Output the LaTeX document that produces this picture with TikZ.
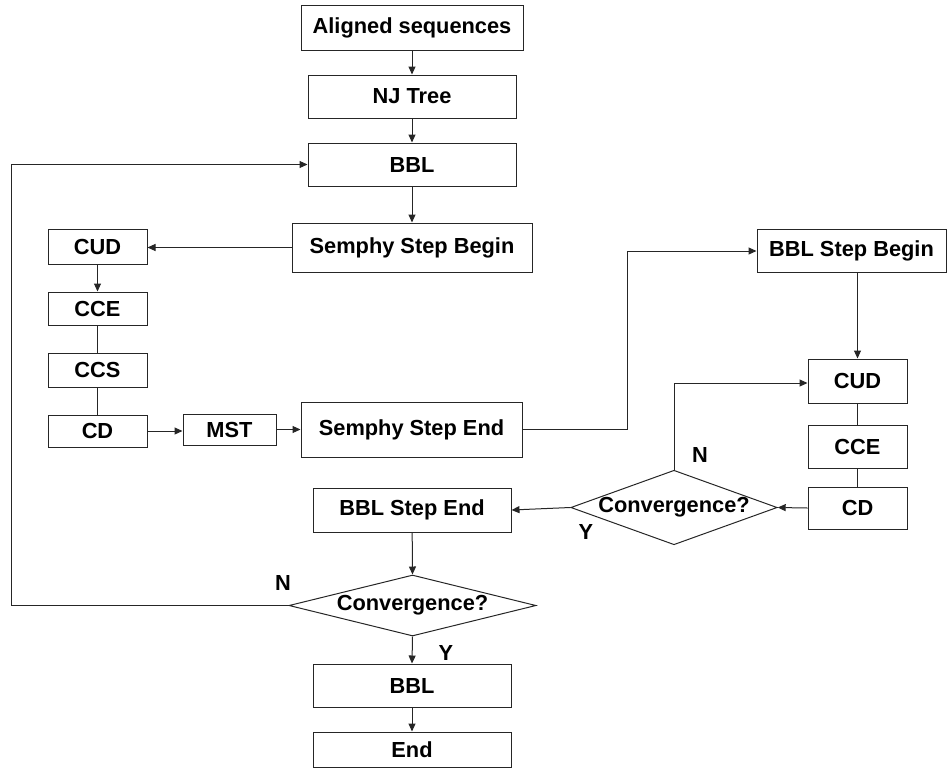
\documentclass[tikz,border=0pt]{standalone}
\usepackage{fontspec}
\setmainfont{Liberation Sans}
\usetikzlibrary{shapes.geometric,arrows.meta}
\begin{document}
\begin{tikzpicture}[x=1pt,y=-1pt,
  every node/.style={font=\bfseries\fontsize{21.8}{24}\selectfont},
  box/.style={draw=black!85, line width=1pt, rectangle, inner sep=0pt},
  dec/.style={draw=black!85, line width=1pt, diamond, inner sep=0pt},
  conn/.style={draw=black!85, line width=1pt},
  arr/.style={conn, -{Triangle[length=8pt,width=7pt]}},
  lbl/.style={inner sep=0pt}]
\useasboundingbox (0,0) rectangle (947,769);
% left / centre column
\node[box, minimum width=222pt, minimum height=45pt] (aligned) at (412,27.5) {Aligned sequences};
\node[box, minimum width=208pt, minimum height=43pt] (nj) at (412,96.5) {NJ Tree};
\node[box, minimum width=208pt, minimum height=43pt] (bbla) at (412,164.5) {BBL};
\node[box, minimum width=240pt, minimum height=49pt] (ssb) at (412,247.5) {Semphy Step Begin};
\node[box, minimum width=99pt, minimum height=35pt] (cuda) at (97.5,246.5) {CUD};
\node[box, minimum width=99pt, minimum height=33pt] (ccea) at (97.5,308.5) {CCE};
\node[box, minimum width=99pt, minimum height=34pt] (ccs) at (97.5,370) {CCS};
\node[box, minimum width=99pt, minimum height=32pt] (cda) at (97.5,431) {CD};
\node[box, minimum width=93pt, minimum height=31pt] (mst) at (229.5,429.5) {MST};
\node[box, minimum width=221pt, minimum height=55pt] (sse) at (411.5,429.5) {Semphy Step End};
% right column
\node[box, minimum width=189pt, minimum height=43pt] (bsb) at (851.5,250.5) {BBL Step Begin};
\node[box, minimum width=99pt, minimum height=44pt] (cudb) at (857.5,381) {CUD};
\node[box, minimum width=99pt, minimum height=43pt] (cceb) at (857.5,446.5) {CCE};
\node[box, minimum width=99pt, minimum height=42pt] (cdb) at (857.5,508) {CD};
\node[dec, aspect=2.77, minimum width=202pt, minimum height=73pt] (diaa) at (674,507.5) {Convergence?};
\node[box, minimum width=198pt, minimum height=44pt] (bse) at (412,510) {BBL Step End};
\node[dec, aspect=4.05, minimum width=247pt, minimum height=61pt] (diab) at (412.5,605.5) {Convergence?};
\node[box, minimum width=198pt, minimum height=43pt] (bblb) at (412,685.5) {BBL};
\node[box, minimum width=198pt, minimum height=35pt] (endn) at (412,749.5) {End};
% labels
\node[lbl] (na) at (700,455) {N};
\node[lbl] (ya) at (586,532) {Y};
\node[lbl] (nb) at (283,583) {N};
\node[lbl] (yb) at (446,653) {Y};
% turning points
\coordinate (t1) at (627,429.5);
\coordinate (t2) at (627,251);
\coordinate (t3) at (674,383);
\coordinate (t4) at (11,605.5);
\coordinate (t5) at (11,164.5);
% connectors
\draw[arr] (aligned) -- (nj);
\draw[arr] (nj) -- (bbla);
\draw[arr] (bbla) -- (ssb);
\draw[arr] (ssb.west) -- (ssb.west -| cuda.east);
\draw[arr] (cuda) -- (ccea);
\draw[conn] (ccea) -- (ccs);
\draw[conn] (ccs) -- (cda);
\draw[arr] (cda.east) -- (cda.east -| mst.west);
\draw[arr] (mst) -- (sse);
\draw[arr] (sse.east) -- (t1) -- (t2) -- (t2 -| bsb.west);
\draw[arr] (cudb.north |- bsb.south) -- (cudb.north);
\draw[conn] (cudb) -- (cceb);
\draw[conn] (cceb) -- (cdb);
\draw[arr] (cdb.west) -- (diaa.east);
\draw[arr] (diaa.north) -- (t3) -- (t3 -| cudb.west);
\draw[arr] (diaa.west) -- (bse.east);
\draw[arr] (bse) -- (diab.north);
\draw[arr] (diab.west) -- (t4) -- (t5) -- (bbla.west);
\draw[arr] (diab.south) -- (bblb.north);
\draw[arr] (bblb) -- (endn);
\end{tikzpicture}
\end{document}
